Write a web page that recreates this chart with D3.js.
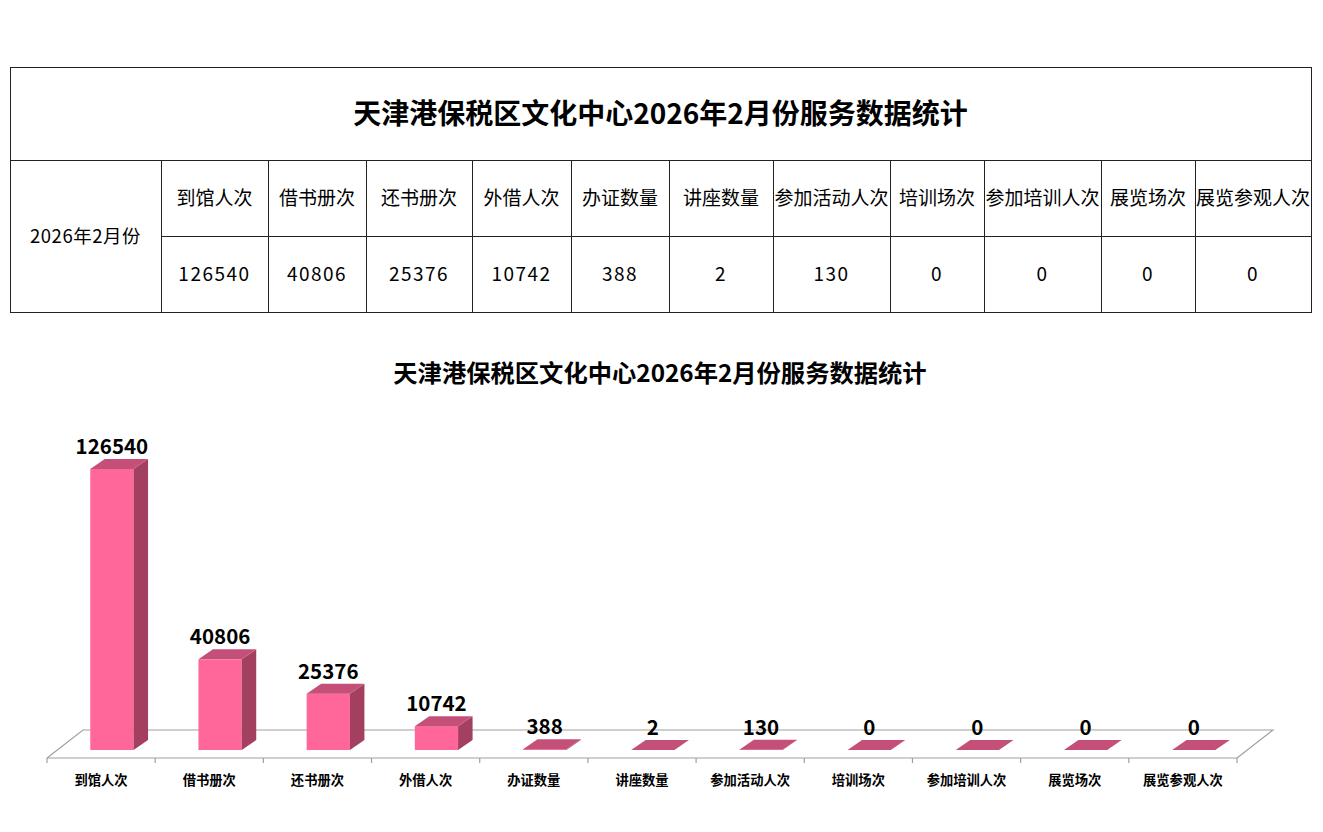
<!DOCTYPE html>
<html>
<head>
<meta charset="utf-8">
<script src="https://cdn.jsdelivr.net/npm/d3@7"></script>
<style>
  body { margin: 0; background: #fff; }
  svg { display: block; font-family: "Noto Sans CJK SC", "Noto Sans", sans-serif; }
</style>
</head>
<body>
<svg id="chart"></svg>
<script>
'use strict';

var title = '天津港保税区文化中心2026年2月份服务数据统计';
var period = '2026年2月份';
var categories = ['到馆人次', '借书册次', '还书册次', '外借人次', '办证数量', '讲座数量',
  '参加活动人次', '培训场次', '参加培训人次', '展览场次', '展览参观人次'];
var values = [126540, 40806, 25376, 10742, 388, 2, 130, 0, 0, 0, 0];

var width = 1323, height = 832;

var svg = d3.select('#chart')
  .attr('width', width)
  .attr('height', height);

svg.append('rect')
  .attr('width', width)
  .attr('height', height)
  .attr('fill', '#fff');

// ---- table ----
var table = {left: 10, right: 1311, top: 67, r1: 160, r2: 236, bottom: 312};
var colEdges = [161, 268, 366, 472, 571, 669, 773, 890, 984, 1101, 1195, 1311];
var border = '#222';

var tg = svg.append('g').attr('class', 'table');

tg.append('rect')
  .attr('x', table.left + 0.5)
  .attr('y', table.top + 0.5)
  .attr('width', table.right - table.left)
  .attr('height', table.bottom - table.top)
  .attr('fill', 'none')
  .attr('stroke', border);

tg.append('line')
  .attr('x1', table.left).attr('x2', table.right)
  .attr('y1', table.r1 + 0.5).attr('y2', table.r1 + 0.5)
  .attr('stroke', border);

tg.append('line')
  .attr('x1', colEdges[0]).attr('x2', table.right)
  .attr('y1', table.r2 + 0.5).attr('y2', table.r2 + 0.5)
  .attr('stroke', border);

tg.selectAll('line.col').data(colEdges.slice(0, -1)).enter()
  .append('line')
  .classed('col', true)
  .attr('x1', function (d) { return d + 0.5; })
  .attr('x2', function (d) { return d + 0.5; })
  .attr('y1', table.r1)
  .attr('y2', table.bottom)
  .attr('stroke', border);

tg.append('text')
  .attr('x', (table.left + table.right) / 2)
  .attr('y', (table.top + table.r1) / 2)
  .attr('dy', '0.36em')
  .attr('text-anchor', 'middle')
  .attr('font-size', 28)
  .attr('font-weight', 'bold')
  .text(title);

tg.append('text')
  .attr('x', (table.left + colEdges[0]) / 2)
  .attr('y', (table.r1 + table.bottom) / 2)
  .attr('dy', '0.36em')
  .attr('text-anchor', 'middle')
  .attr('font-size', 18.5)
  .attr('letter-spacing', 0.5)
  .text(period);

categories.forEach(function (c, i) {
  var cx = (colEdges[i] + colEdges[i + 1]) / 2;
  tg.append('text')
    .attr('x', cx)
    .attr('y', (table.r1 + table.r2) / 2)
    .attr('dy', '0.36em')
    .attr('text-anchor', 'middle')
    .attr('font-size', 19)
    .text(c);
  tg.append('text')
    .attr('x', cx)
    .attr('y', (table.r2 + table.bottom) / 2)
    .attr('dy', '0.36em')
    .attr('text-anchor', 'middle')
    .attr('font-size', 19)
    .attr('letter-spacing', 1.5)
    .text(values[i]);
});

// ---- 3D bar chart ----
svg.append('text')
  .attr('x', 660)
  .attr('y', 373)
  .attr('dy', '0.36em')
  .attr('text-anchor', 'middle')
  .attr('font-size', 24.3)
  .attr('font-weight', 'bold')
  .text(title);

var xScale = d3.scaleBand()
  .domain(categories)
  .range([47, 1237]);

var yScale = d3.scaleLinear()
  .domain([0, 140000])
  .range([750, 439]);

var bw = xScale.bandwidth();
var barW = bw * 0.4, barOff = bw * 0.4;
var depth = {dx: 14.5, dy: -10};
var floor = {front: 758, back: 730, dx: 36};
var axisColor = '#a0a0a0';

var cg = svg.append('g').attr('class', 'plot');

var x0 = xScale.range()[0], x1 = xScale.range()[1];
cg.append('path')
  .attr('d', 'M' + x0 + ',' + floor.front +
    'L' + (x0 + floor.dx) + ',' + floor.back +
    'L' + (x1 + floor.dx) + ',' + floor.back +
    'L' + x1 + ',' + floor.front)
  .attr('fill', 'none')
  .attr('stroke', axisColor)
  .attr('stroke-width', 1.2);

cg.append('line')
  .attr('x1', x0).attr('x2', x1)
  .attr('y1', floor.front).attr('y2', floor.front)
  .attr('stroke', axisColor)
  .attr('stroke-width', 1.2);

var tickPos = categories.map(function (c) { return xScale(c); }).concat([x1]);
cg.selectAll('line.tick').data(tickPos).enter()
  .append('line')
  .classed('tick', true)
  .attr('x1', function (d) { return d; })
  .attr('x2', function (d) { return d; })
  .attr('y1', floor.front)
  .attr('y2', floor.front + 5)
  .attr('stroke', axisColor)
  .attr('stroke-width', 1.2);

cg.selectAll('g.bar').data(values).enter()
  .append('g')
  .classed('bar', true)
  .each(function (v, i) {
    var g = d3.select(this);
    var bx = xScale(categories[i]) + barOff;
    var top = yScale(v), base = yScale(0);

    if (v > 0) {
      g.append('rect')
        .attr('x', bx)
        .attr('y', top)
        .attr('width', barW)
        .attr('height', base - top)
        .attr('fill', '#ff6699');
      g.append('path')
        .attr('d', 'M' + (bx + barW) + ',' + base +
          'L' + (bx + barW) + ',' + top +
          'L' + (bx + barW + depth.dx) + ',' + (top + depth.dy) +
          'L' + (bx + barW + depth.dx) + ',' + (base + depth.dy) + 'Z')
        .attr('fill', '#a3405f');
    }
    g.append('path')
      .attr('d', 'M' + bx + ',' + top +
        'L' + (bx + barW) + ',' + top +
        'L' + (bx + barW + depth.dx) + ',' + (top + depth.dy) +
        'L' + (bx + depth.dx) + ',' + (top + depth.dy) + 'Z')
      .attr('fill', '#c4507a');

    g.append('text')
      .attr('x', bx + barW / 2)
      .attr('y', top + depth.dy - 5)
      .attr('text-anchor', 'middle')
      .attr('font-size', 20.5)
      .attr('font-weight', 'bold')
      .text(v);
  });

cg.selectAll('text.cat').data(categories).enter()
  .append('text')
  .classed('cat', true)
  .attr('x', function (d) { return xScale(d) + bw / 2; })
  .attr('y', 780)
  .attr('dy', '0.36em')
  .attr('text-anchor', 'middle')
  .attr('font-size', 13.3)
  .attr('font-weight', 'bold')
  .text(function (d) { return d; });
</script>
</body>
</html>
